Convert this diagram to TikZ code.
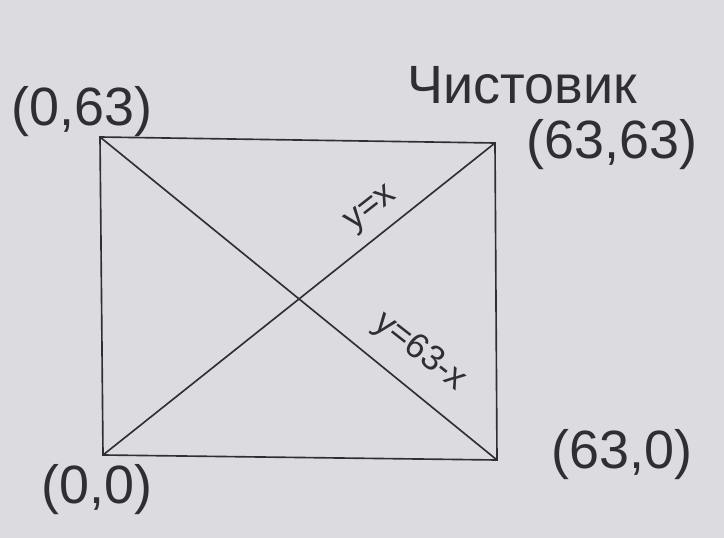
\documentclass[tikz,border=0pt]{standalone}
\usepackage{fontspec}
\setmainfont{Liberation Sans}
\usepackage{tikz}
\usetikzlibrary{positioning}
\definecolor{paper}{HTML}{DCDCE0}
\definecolor{ink}{HTML}{2E2E33}

\begin{document}
\begin{tikzpicture}[
		x=0.03cm, y=-0.03cm,
		edge/.style={draw=ink, line width=1.4pt},
		corner/.style={
				text=ink,
				inner sep=1pt,
				font=\fontsize{46}{48}\selectfont
			},
		eqn/.style={
				text=ink,
				inner sep=0pt,
				font=\fontsize{30}{32}\selectfont
			}
	]
	\fill[paper] (0,0) rectangle (724,538);

	% corners of the square
	\coordinate (tl) at (100,137);
	\coordinate (tr) at (495,143);
	\coordinate (bl) at (103,455);
	\coordinate (br) at (497,460);

	\draw[edge] (tl) -- (tr) -- (br) -- (bl) -- cycle;
	\draw[edge] (bl) -- (tr);
	\draw[edge] (tl) -- (br);

	% labels
	\node[corner] (ltl) at (82,112) {(0,63)};
	\node[corner] (ltr) at (612,145) {(63,63)};
	\node[corner] (lbl) at (97,490) {(0,0)};
	\node[corner] (lbr) at (622,455) {(63,0)};
	\node[corner] (title) at (522,85) {Чистовик};

	\node[eqn, rotate=38] (diag1) at (372,210) {y=x};
	\node[eqn, rotate=-38] (diag2) at (420,352) {y=63-x};
\end{tikzpicture}
\end{document}
